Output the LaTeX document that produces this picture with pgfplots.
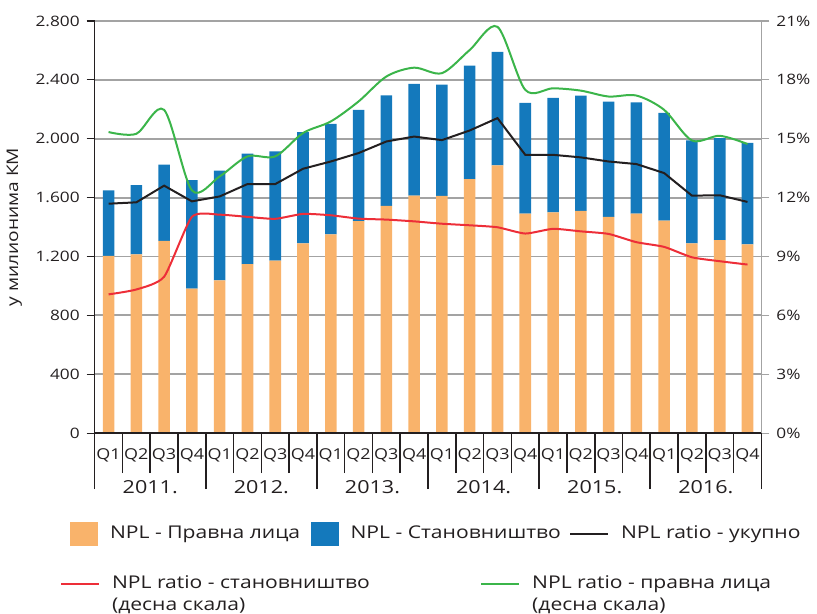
\documentclass[border=0pt]{standalone}
\usepackage{fontspec}
\setmainfont{Open Sans}[FakeStretch=1.2]
\usepackage{pgfplots}
\pgfplotsset{compat=1.18}
\usepackage{pgfplotstable}

\definecolor{npllegal}{HTML}{F9B36B}
\definecolor{nplhouse}{HTML}{1479BC}
\definecolor{ratiotot}{HTML}{231F20}
\definecolor{ratiohouse}{HTML}{ED2E38}
\definecolor{ratiolegal}{HTML}{3BB54A}
\definecolor{gridgray}{HTML}{A3A3A3}

% q: quarter index 2011Q1..2016Q4; legal/house in mil. KM; ratios in %
\pgfplotstableread{
q  legal house tot   hh    lp
0  1204  446   11.69 7.07  15.34
1  1215  469   11.76 7.32  15.25
2  1307  517   12.61 7.97  16.47
3  981   737   11.81 11.02 12.37
4  1037  746   12.06 11.13 13.08
5  1148  750   12.69 11.02 14.10
6  1172  742   12.69 10.92 14.10
7  1290  755   13.47 11.17 15.29
8  1350  751   13.84 11.10 15.88
9  1441  755   14.27 10.93 16.90
10 1544  751   14.86 10.88 18.17
11 1614  758   15.11 10.79 18.62
12 1612  755   14.93 10.67 18.34
13 1725  771   15.42 10.59 19.52
14 1819  771   16.05 10.49 20.70
15 1492  751   14.18 10.17 17.49
16 1499  778   14.18 10.41 17.57
17 1510  783   14.05 10.28 17.45
18 1470  782   13.84 10.15 17.15
19 1492  755   13.71 9.73  17.20
20 1443  733   13.25 9.49  16.47
21 1290  698   12.10 8.96  14.91
22 1312  692   12.12 8.76  15.15
23 1283  689   11.78 8.59  14.73
}\npl

\newcommand\lgfont{\fontsize{8.8}{12}\selectfont}

\pgfplotsset{
  npl/.style={
    scale only axis, width=334pt, height=206.5pt,
    xmin=-0.5, xmax=23.5,
    /pgf/number format/assume math mode=true,
    tick label style={font=\fontsize{7.2}{9}\selectfont, text=ratiotot},
  },
  npllegend/.style={
    legend style={draw=none, fill=none, inner sep=0pt,
      nodes={inner sep=0pt}, font=\lgfont, text=ratiotot,
      /tikz/every odd column/.append style={column sep=6pt}},
  },
}

\begin{document}
\begin{tikzpicture}
% bars, left scale
\begin{axis}[npl, npllegend,
  ymin=0, ymax=2800, ytick={0,400,...,2800},
  axis x line*=bottom, axis y line*=left,
  axis line style={ratiotot, line width=0.8pt, -},
  ymajorgrids, grid style={gridgray, line width=0.9pt},
  tick align=outside, major tick length=4pt,
  ytick style={ratiotot, line width=0.6pt},
  xtick={0,...,23},
  xticklabels={Q1,Q2,Q3,Q4,Q1,Q2,Q3,Q4,Q1,Q2,Q3,Q4,Q1,Q2,Q3,Q4,Q1,Q2,Q3,Q4,Q1,Q2,Q3,Q4},
  xticklabel style={font=\fontsize{7.5}{9}\selectfont},
  xtick style={draw=none},
  yticklabel style={/pgf/number format/.cd, 1000 sep={.}},
  ylabel={у милионима КМ},
  ylabel style={font=\fontsize{8}{9}\selectfont, text=ratiotot},
  ybar stacked, bar width=5.8pt,
  legend columns=3,
  legend style={at={(-0.0374,-0.2445)}, anchor=west},
  after end axis/.code={\path (rel axis cs:0,1) ++(0pt,10.5pt);},
]
\addplot[fill=npllegal, draw=none,
  legend image code/.code={\fill[npllegal] (0pt,-6pt) rectangle (14pt,6pt);}]
  table[x=q, y=legal]{\npl};
\addlegendentry{\makebox[100.5pt][l]{NPL - Правна лица}}
\addplot[fill=nplhouse, draw=none,
  legend image code/.code={\fill[nplhouse] (0pt,-6pt) rectangle (14pt,6pt);}]
  table[x=q, y=house]{\npl};
\addlegendentry{\makebox[109.5pt][l]{NPL - Становништво}}
\addlegendimage{legend image code/.code={\draw[ratiotot, line width=1pt] (0pt,0pt) -- (19pt,0pt);}}
\addlegendentry{NPL ratio - укупно}
\end{axis}

% ratios, right scale
\begin{axis}[npl, npllegend,
  ymin=0, ymax=21, ytick={0,3,...,21},
  axis y line*=right, hide x axis,
  axis line style={gridgray, line width=0.9pt, -},
  tick align=outside, major tick length=4pt,
  ytick style={gridgray, line width=0.6pt},
  yticklabel={\pgfmathprintnumber{\tick}\%},
  legend columns=2,
  legend style={at={(-0.0524,-0.391)}, anchor=west, /tikz/row sep=3pt},
  legend cell align=left,
]
\addplot[ratiotot, line width=1pt, forget plot] table[x=q, y=tot]{\npl};
\addplot[ratiohouse, line width=1pt, smooth, tension=0.35,
  legend image code/.code={\draw[ratiohouse, line width=1pt] (0pt,0pt) -- (19pt,0pt);}]
  table[x=q, y=hh]{\npl};
\addlegendentry{\makebox[184.5pt][l]{NPL ratio - становништво}}
\addplot[ratiolegal, line width=1pt, smooth,
  legend image code/.code={\draw[ratiolegal, line width=1pt] (0pt,0pt) -- (19pt,0pt);}]
  table[x=q, y=lp]{\npl};
\addlegendentry{NPL ratio - правна лица}
\addlegendimage{empty legend}
\addlegendentry{(десна скала)}
\addlegendimage{empty legend}
\addlegendentry{(десна скала)}
\end{axis}

% two-level category axis: quarter and year separators
\begin{axis}[npl,
  ymin=0, ymax=1, hide y axis,
  axis x line*=bottom,
  axis line style={ratiotot, line width=0.8pt, -},
  tick align=outside,
  xtick={-0.5,3.5,...,23.5},
  xticklabels={2011.,2012.,2013.,2014.,2015.,2016.,{}},
  xticklabel style={overlay, font=\fontsize{9}{10}\selectfont, xshift=27.83pt, yshift=8pt},
  major tick length=28pt,
  minor xtick={0.5,1.5,...,22.5}, minor tick length=20pt,
  xtick style={ratiotot, line width=0.8pt},
]
\addplot[draw=none] coordinates {(0,0)};
\end{axis}
\end{tikzpicture}
\end{document}
